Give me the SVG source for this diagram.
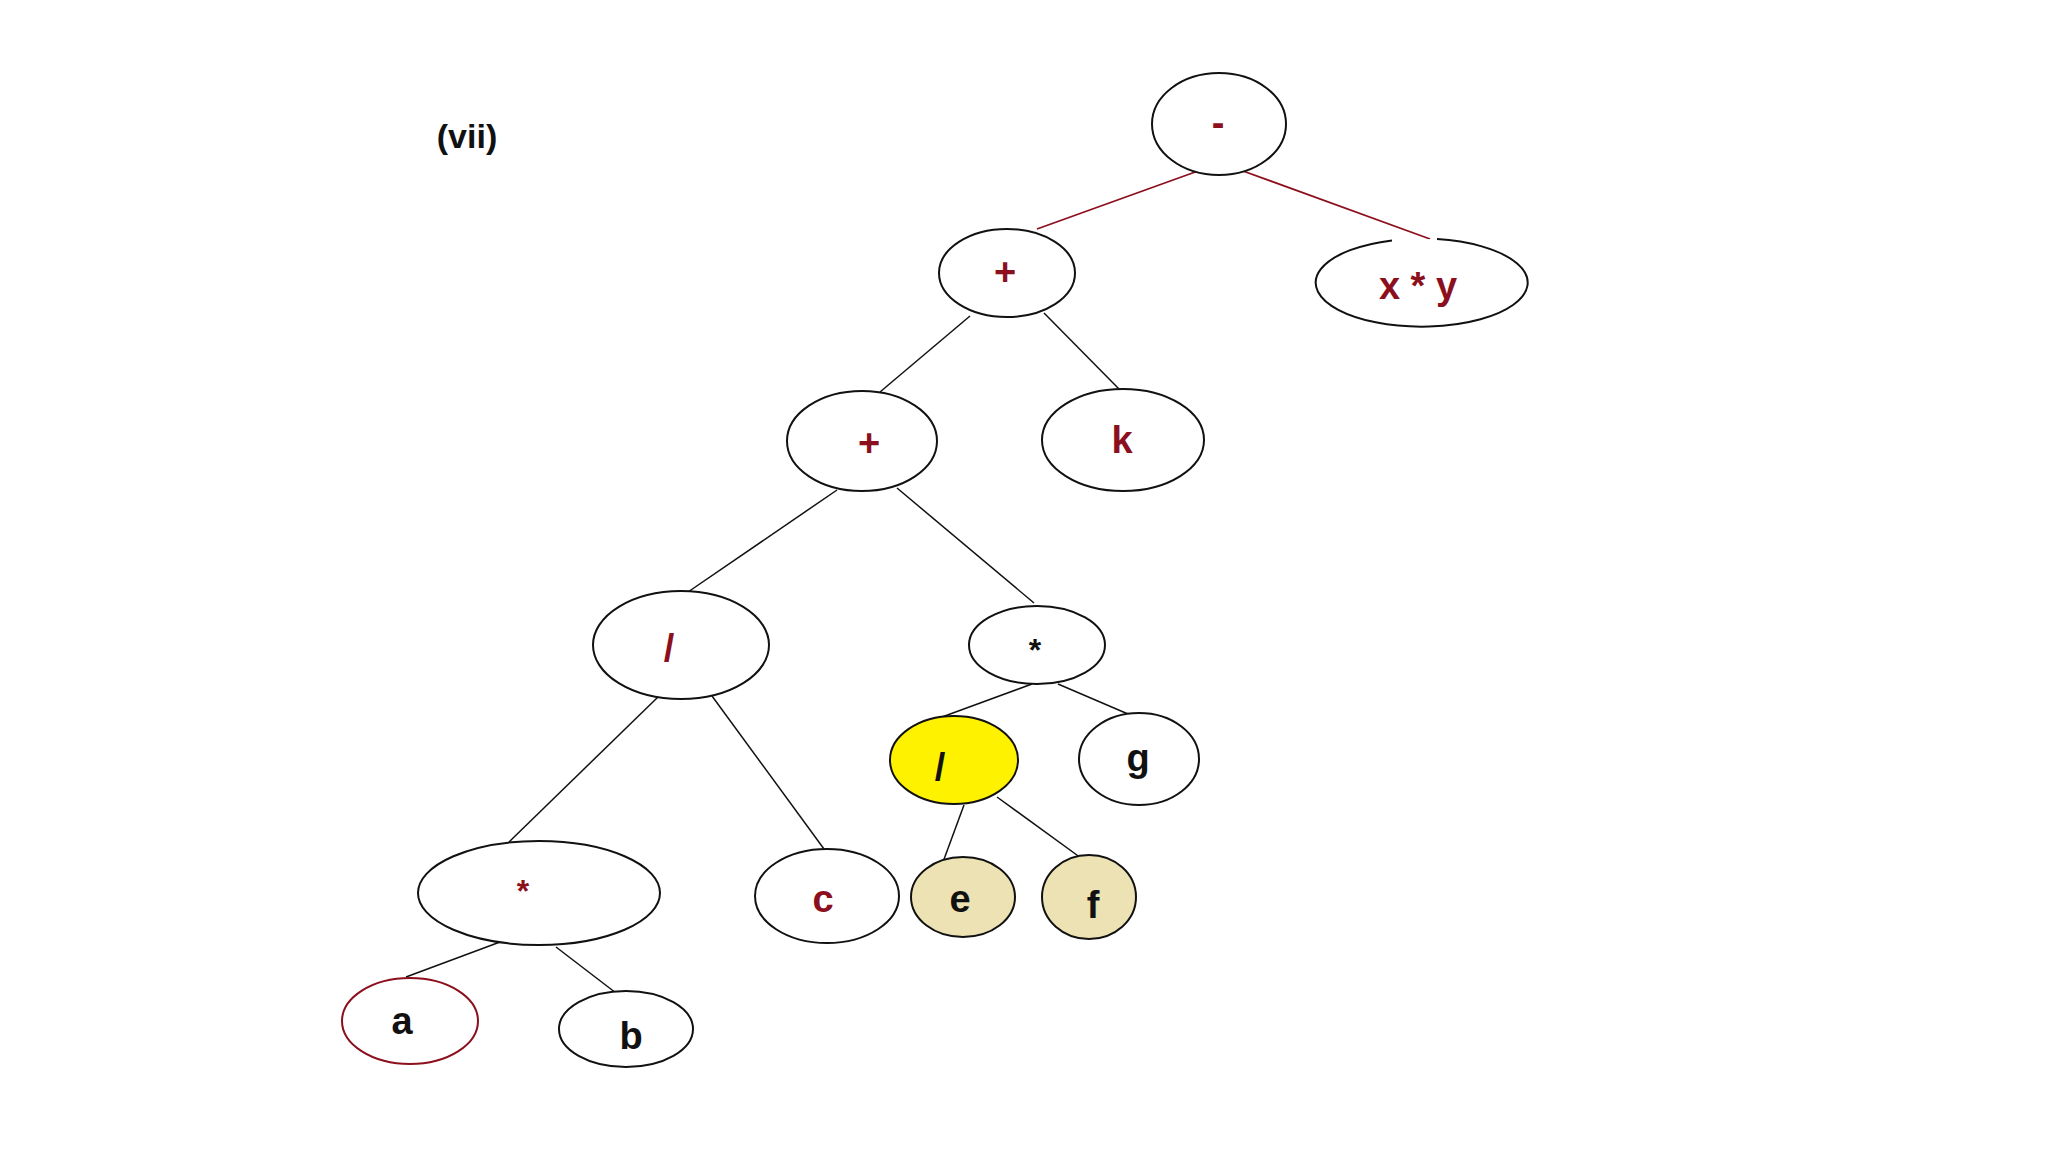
<svg xmlns="http://www.w3.org/2000/svg" width="2048" height="1152" viewBox="0 0 2048 1152">
<style>
.n{fill:#fff;stroke:#111;stroke-width:2}
.t{font-family:"Liberation Sans",Arial,sans-serif;font-weight:bold;font-size:38px;text-anchor:middle}
.s{font-size:32px}
.r{fill:#8b0f1c}
.k{fill:#111}
.e{stroke:#111;stroke-width:1.5;fill:none}
.er{stroke:#8b0f1c;stroke-width:1.8;fill:none}
</style>
<rect width="2048" height="1152" fill="#fff"/>
<text x="467" y="148" class="t k" style="font-size:34px">(vii)</text>
<g id="connectors">
<line class="er" x1="1198" y1="171" x2="1037" y2="229"/>
<line class="er" x1="1243" y1="171" x2="1430" y2="239"/>
<line class="e" x1="970" y1="316" x2="880" y2="392"/>
<line class="e" x1="1044" y1="313" x2="1121" y2="391"/>
<line class="e" x1="837" y1="490" x2="688" y2="592"/>
<line class="e" x1="897" y1="488" x2="1034" y2="603"/>
<line class="e" x1="658" y1="697" x2="509" y2="842"/>
<line class="e" x1="712" y1="696" x2="824" y2="849"/>
<line class="e" x1="1032" y1="684" x2="942" y2="717"/>
<line class="e" x1="1058" y1="684" x2="1128" y2="714"/>
<line class="e" x1="964" y1="805" x2="943" y2="862"/>
<line class="e" x1="997" y1="797" x2="1081" y2="858"/>
<line class="e" x1="500" y1="942" x2="406" y2="977"/>
<line class="e" x1="556" y1="947" x2="616" y2="993"/>
</g>
<g id="n-minus">
<ellipse class="n" cx="1219" cy="124" rx="67" ry="51"/>
<text x="1218" y="136" class="t r">-</text>
</g>
<g id="n-plus1">
<ellipse class="n" cx="1007" cy="273" rx="68" ry="44"/>
<text x="1005" y="285" class="t r">+</text>
</g>
<g id="n-xy">
<path class="n" d="M1437 239.1 A106 44 0 1 1 1392 240.4"/>
<text x="1418" y="299" class="t r">x * y</text>
</g>
<g id="n-plus2">
<ellipse class="n" cx="862" cy="441" rx="75" ry="50"/>
<text x="869" y="456" class="t r">+</text>
</g>
<g id="n-k">
<ellipse class="n" cx="1123" cy="440" rx="81" ry="51"/>
<text x="1122" y="453" class="t r">k</text>
</g>
<g id="n-div1">
<ellipse class="n" cx="681" cy="645" rx="88" ry="54"/>
<text x="669" y="661" class="t r">/</text>
</g>
<g id="n-mul1">
<ellipse class="n" cx="1037" cy="645" rx="68" ry="39"/>
<text x="1035" y="661" class="t s k">*</text>
</g>
<g id="n-div2">
<ellipse class="n" cx="954" cy="760" rx="64" ry="44" style="fill:#fff200"/>
<text x="940" y="780" class="t k">/</text>
</g>
<g id="n-g">
<ellipse class="n" cx="1139" cy="759" rx="60" ry="46"/>
<text x="1138" y="771" class="t k">g</text>
</g>
<g id="n-mul2">
<ellipse class="n" cx="539" cy="893" rx="121" ry="52"/>
<text x="523" y="902" class="t s r">*</text>
</g>
<g id="n-c">
<ellipse class="n" cx="827" cy="896" rx="72" ry="47"/>
<text x="823" y="912" class="t r">c</text>
</g>
<g id="n-e">
<ellipse class="n" cx="963" cy="897" rx="52" ry="40" style="fill:#ece2b3"/>
<text x="960" y="912" class="t k">e</text>
</g>
<g id="n-f">
<ellipse class="n" cx="1089" cy="897" rx="47" ry="42" style="fill:#ece2b3"/>
<text x="1093" y="918" class="t k">f</text>
</g>
<g id="n-a">
<ellipse class="n" cx="410" cy="1021" rx="68" ry="43" style="stroke:#8b0f1c"/>
<text x="402" y="1034" class="t k">a</text>
</g>
<g id="n-b">
<ellipse class="n" cx="626" cy="1029" rx="67" ry="38"/>
<text x="631" y="1049" class="t k">b</text>
</g>
</svg>
